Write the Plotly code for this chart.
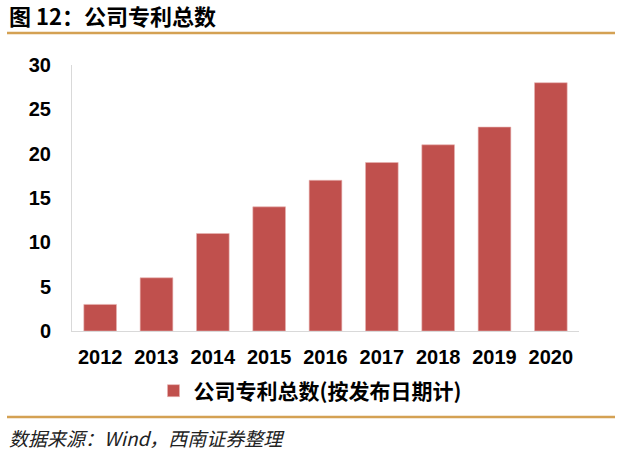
import plotly.graph_objects as go

years = ["2012", "2013", "2014", "2015", "2016", "2017", "2018", "2019", "2020"]
patents = [3, 6, 11, 14, 17, 19, 21, 23, 28]
series_name = "公司专利总数(按发布日期计)"
title_text = "图 12：公司专利总数"
source_text = "数据来源：Wind，西南证券整理"
y_ticks = [0, 5, 10, 15, 20, 25, 30]

W, H = 621, 451
L, R, T, B = 72, 42, 65, 120
PW, PH = W - L - R, H - T - B
FONT = "Liberation Sans, Arial, Noto Sans CJK SC, sans-serif"
CJK = "Noto Sans CJK SC, Liberation Sans, sans-serif"


def px(x):
    return (x - L) / PW


def py(y):
    return (H - B - y) / PH


fig = go.Figure()
fig.add_trace(go.Bar(
    x=years, y=patents, name=series_name,
    marker=dict(color="#C0504D", line=dict(color="#E8B4B2", width=0.6)),
    showlegend=True,
))

gold = "#D4A153"
fig.update_layout(
    width=W, height=H,
    margin=dict(l=L, r=R, t=T, b=B, autoexpand=False),
    paper_bgcolor="white", plot_bgcolor="white",
    bargap=0.42,
    font=dict(family=FONT, size=18, color="black"),
    xaxis=dict(
        showline=True, linecolor="#D9D9D9", linewidth=1,
        showgrid=False, ticks="", tickfont=dict(family=FONT, size=20, color="black", weight="bold"),
        ticklabelstandoff=8, automargin=False,
    ),
    yaxis=dict(
        range=[0, 30], tickvals=y_ticks, showline=True, linecolor="#D9D9D9", linewidth=1,
        showgrid=False, zeroline=False, ticks="",
        tickfont=dict(family=FONT, size=20, color="black", weight="bold"),
        ticklabelstandoff=16, automargin=False,
    ),
    showlegend=True,
    legend=dict(
        orientation="h", x=px(310), xanchor="center", y=py(391), yanchor="middle",
        font=dict(family=CJK, size=21, color="black", weight="bold"),
        itemwidth=30, bgcolor="rgba(0,0,0,0)",
    ),
    shapes=[
        dict(type="line", xref="paper", yref="paper",
             x0=px(7), x1=px(615), y0=py(33), y1=py(33),
             line=dict(color=gold, width=2.5)),
        dict(type="line", xref="paper", yref="paper",
             x0=px(7), x1=px(615), y0=py(417), y1=py(417),
             line=dict(color=gold, width=2.5)),
    ],
    annotations=[
        dict(text="<b>" + title_text + "</b>", xref="paper", yref="paper",
             x=px(7), y=py(15), xanchor="left", yanchor="middle", showarrow=False,
             font=dict(family=CJK, size=22, color="black")),
        dict(text="<i>" + source_text + "</i>", xref="paper", yref="paper",
             x=px(7), y=py(437), xanchor="left", yanchor="middle", showarrow=False,
             font=dict(family=CJK, size=19, color="#222222")),
    ],
)

fig.write_html("out.html", config={"displayModeBar": False},
               post_script="document.body.style.margin='0';")
